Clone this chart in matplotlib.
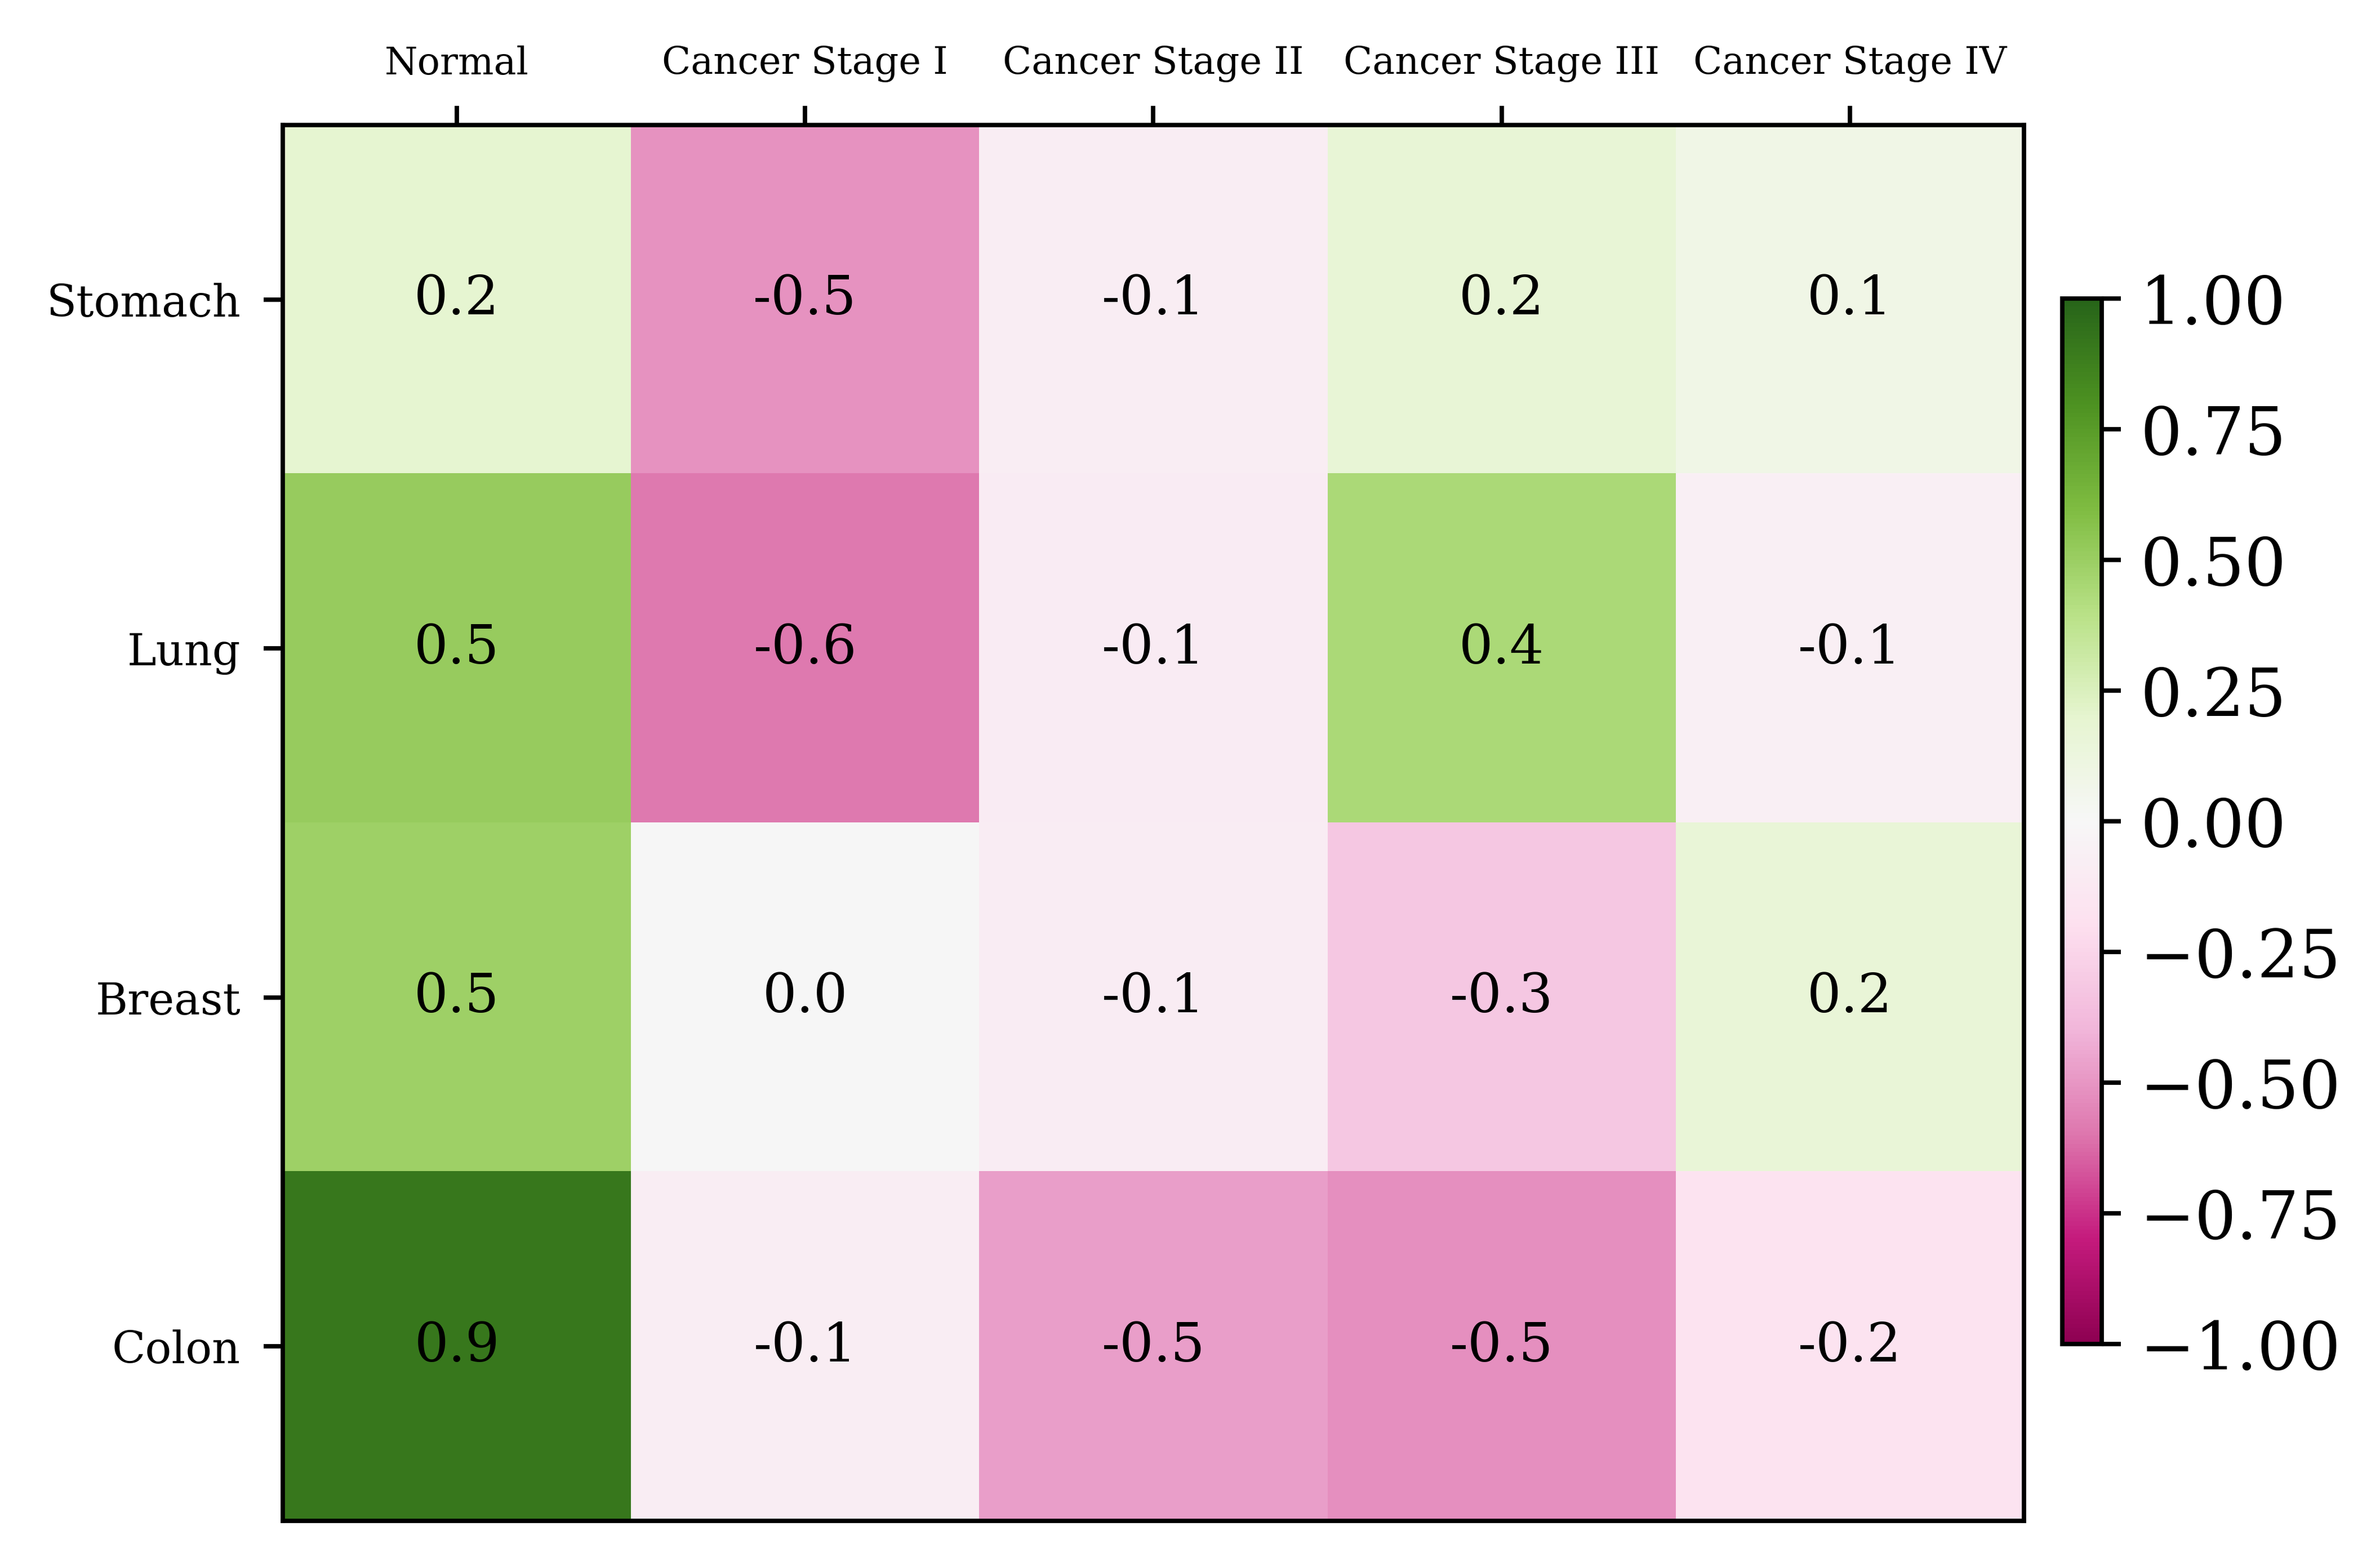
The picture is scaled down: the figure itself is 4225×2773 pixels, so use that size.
import numpy as np
import matplotlib
matplotlib.use("Agg")
import matplotlib.pyplot as plt

plt.rcParams['font.family'] = 'serif'

# datos del mapa de calor
organos = ["Stomach", "Lung", "Breast", "Colon"]
etapas = ["Normal", "Cancer Stage I", "Cancer Stage II", "Cancer Stage III", "Cancer Stage IV"]

stomach = [0.19, -0.51, -0.08, 0.17, 0.08]
lung = [0.51, -0.59, -0.10, 0.44, -0.07]
breast = [0.49, 0.00, -0.09, -0.32, 0.16]
colon = [0.91, -0.08, -0.47, -0.52, -0.17]

valores = np.array([stomach, lung, breast, colon])

dpi = 700
fig = plt.figure(figsize=(4225 / dpi, 2773 / dpi), dpi=dpi)
ax = fig.add_axes([0.1188, 0.0263, 0.7316, 0.8936])
cax = fig.add_axes([0.8665, 0.1396, 0.01657, 0.6693])

im = ax.imshow(valores, cmap="PiYG", vmin=-1, vmax=1, aspect="auto")

ax.set_xticks(np.arange(len(etapas)))
ax.set_xticklabels(etapas, fontsize=6.9)
ax.set_yticks(np.arange(len(organos)))
ax.set_yticklabels(organos, fontsize=8)
ax.tick_params(axis="y", pad=4.2)
ax.tick_params(axis="x", pad=4.3)
ax.xaxis.tick_top()

for i in range(len(organos)):
    for j in range(len(etapas)):
        ax.text(j, i, f"{valores[i, j]:.1f}", ha="center", va="center",
                color="black", fontsize=9.8)

cb = fig.colorbar(im, cax=cax)
cb.set_ticks(np.linspace(-1, 1, 9))
cb.ax.tick_params(labelsize=12)

fig.savefig("out.png", dpi=dpi)
